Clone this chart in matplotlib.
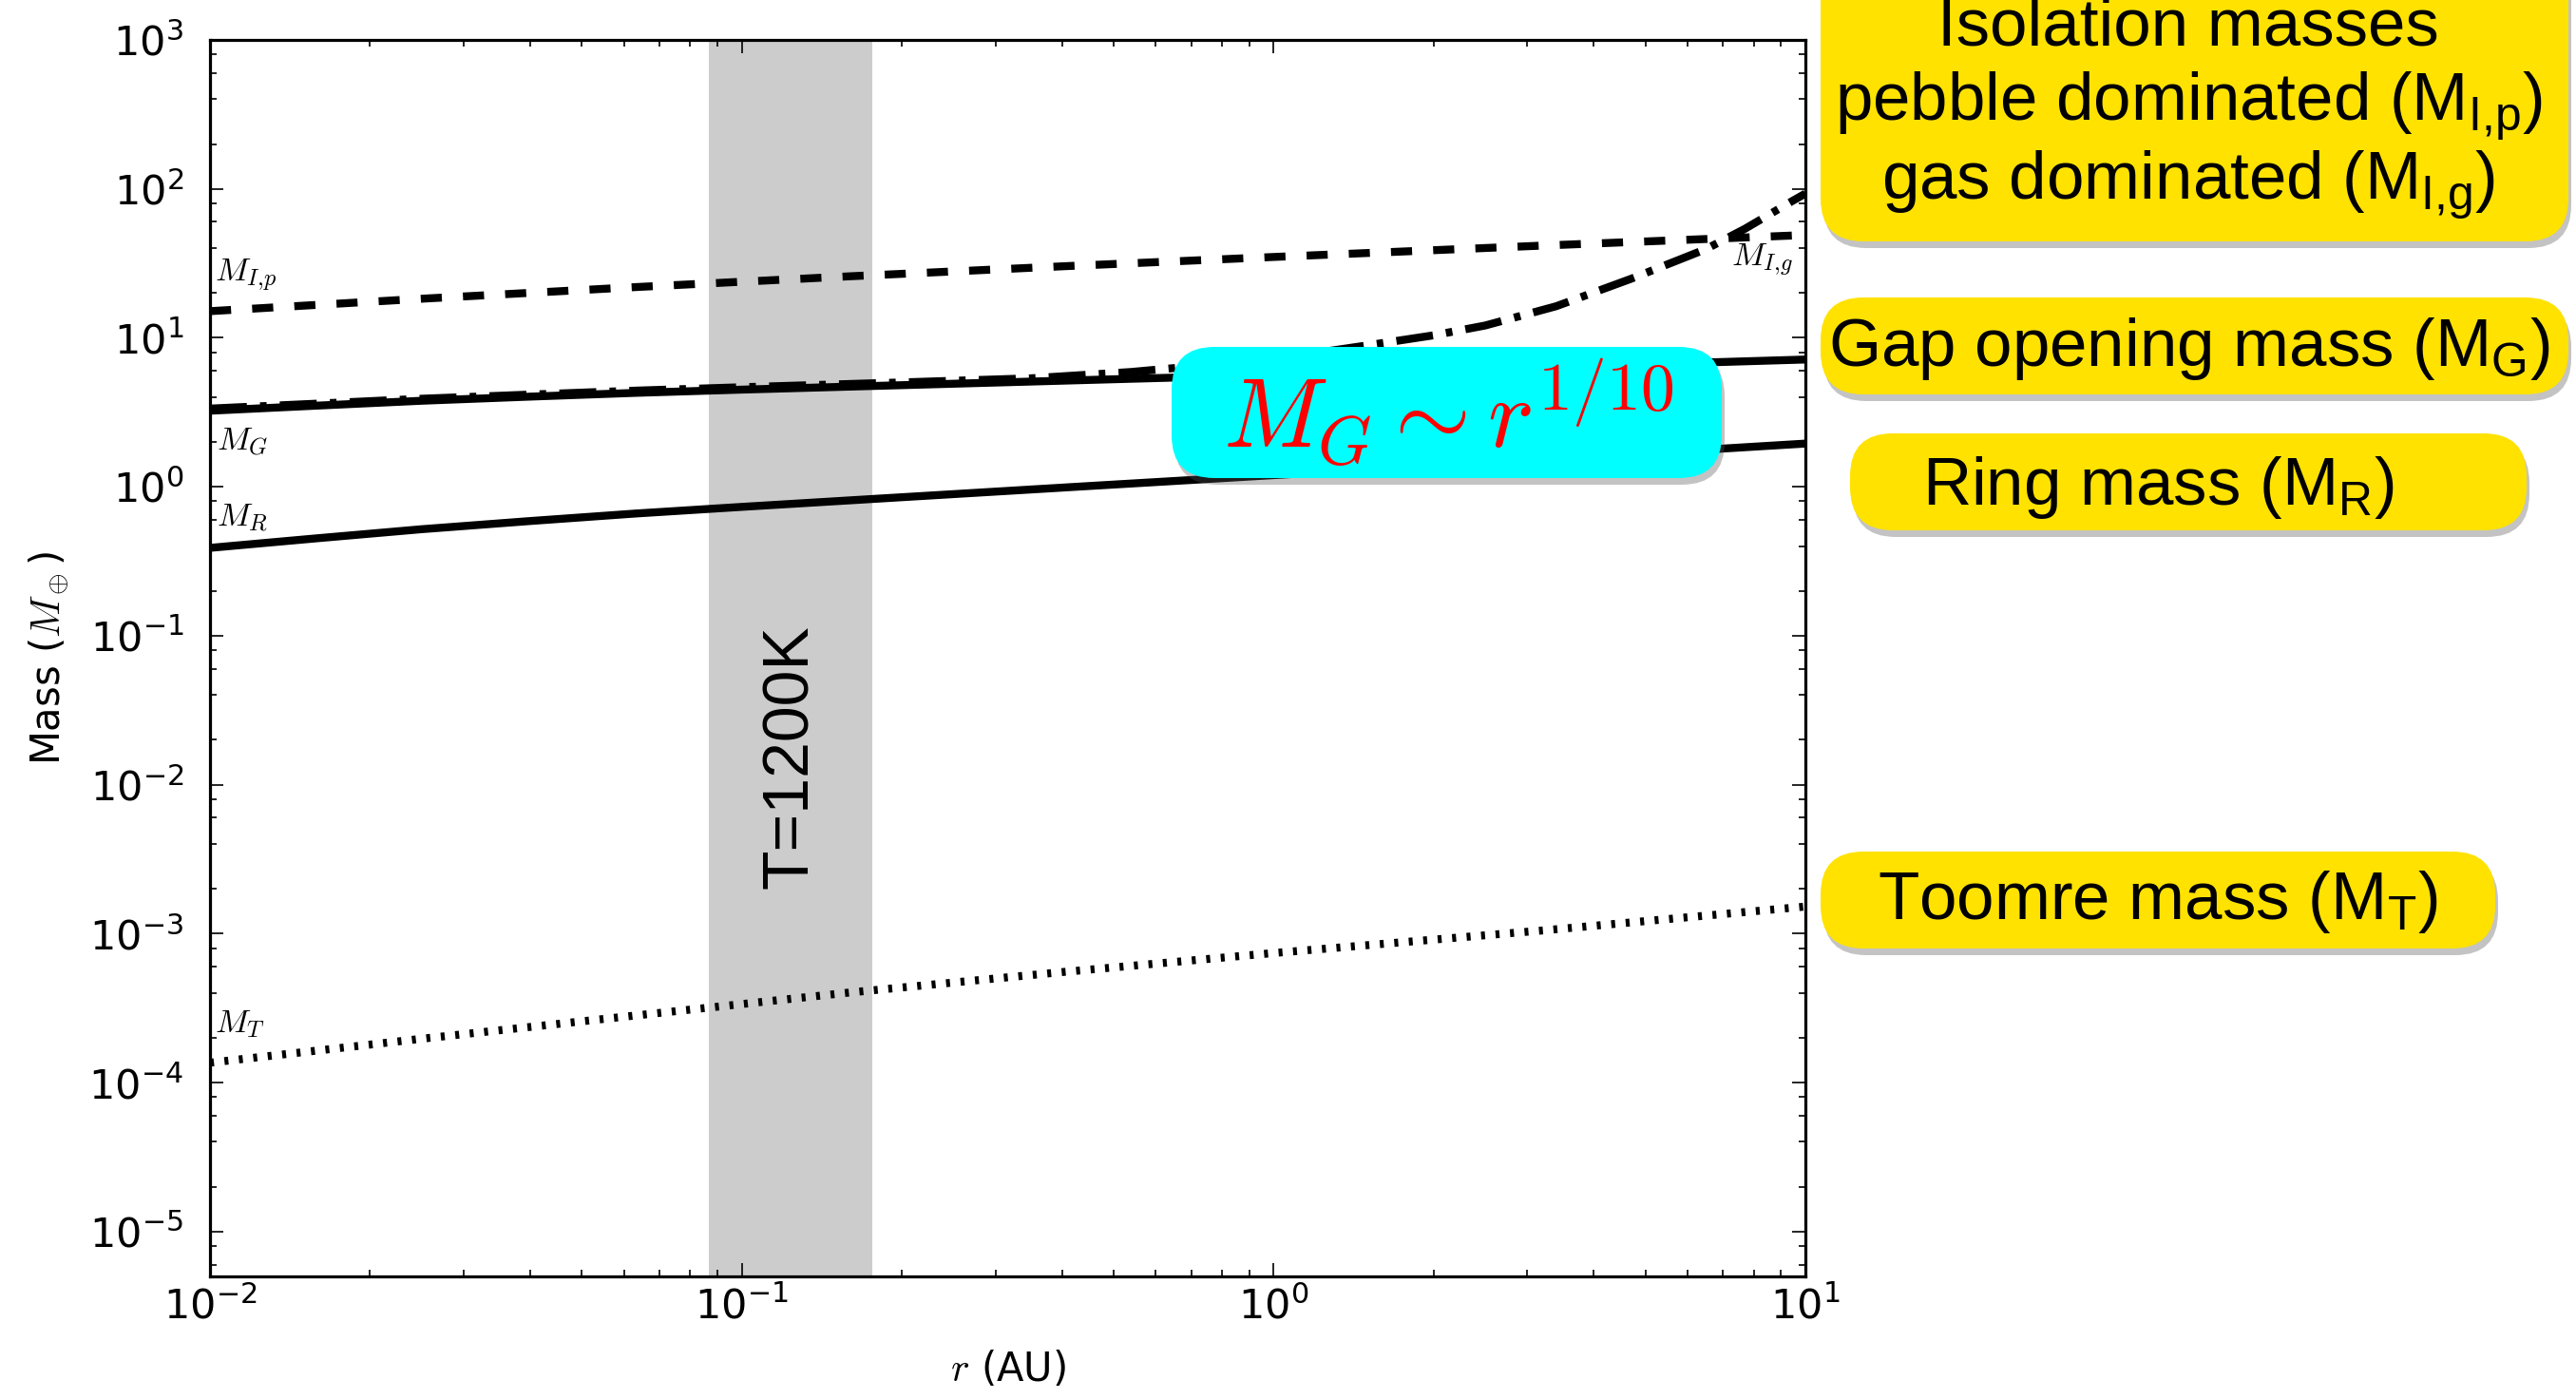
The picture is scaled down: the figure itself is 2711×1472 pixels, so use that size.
import matplotlib.pyplot as plt
from matplotlib.patches import FancyBboxPatch
from matplotlib.ticker import LogLocator, NullFormatter
from matplotlib.transforms import IdentityTransform

plt.rcParams['mathtext.fontset'] = 'cm'
plt.rcParams['lines.scale_dashes'] = False
plt.rcParams['axes.unicode_minus'] = False

# pebble isolation mass M_I,p (Earth masses) vs r (AU)
r_iso_peb = [0.01, 0.025, 0.063, 0.16, 0.4, 1.0, 3.2, 10.0]
m_iso_peb = [15.1, 18.3, 21.9, 25.9, 30.2, 34.9, 41.6, 49.0]

# gap opening mass M_G
r_gap = [0.01, 0.016, 0.025, 0.04, 0.063, 0.1, 0.2, 0.54, 2.0, 10.0]
m_gap = [3.24, 3.51, 3.78, 4.03, 4.27, 4.49, 4.81, 5.31, 6.03, 7.15]

# gas isolation mass M_I,g
r_iso_gas = [0.01, 0.016, 0.025, 0.04, 0.063, 0.1, 0.2, 0.35, 0.54, 1.0, 1.5,
             2.0, 2.5, 3.4, 4.7, 6.5, 7.7, 9.4, 10.0]
m_iso_gas = [3.35, 3.62, 3.9, 4.16, 4.42, 4.66, 5.02, 5.35, 5.9, 7.2, 8.9,
             10.4, 12.1, 16.3, 24.9, 39.4, 54.0, 82.0, 93.0]

# ring mass M_R
r_ring = [0.01, 0.016, 0.025, 0.04, 0.063, 0.1, 0.2, 0.45, 1.0, 3.2, 10.0]
m_ring = [0.389, 0.452, 0.519, 0.589, 0.661, 0.733, 0.851, 1.012, 1.197, 1.524, 1.95]

# Toomre mass M_T
r_toomre = [0.01, 0.025, 0.063, 0.16, 0.4, 1.0, 3.2, 10.0]
m_toomre = [1.36e-4, 1.97e-4, 2.82e-4, 4.03e-4, 5.52e-4, 7.41e-4, 1.05e-3, 1.52e-3]

# silicate sublimation zone (T = 1200 K)
hot_zone = (0.0867, 0.176)

x_decades = [1e-2, 1e-1, 1e0, 1e1]
y_decades = [1e-5, 1e-4, 1e-3, 1e-2, 1e-1, 1e0, 1e1, 1e2, 1e3]

W, H = 2711, 1472
fig = plt.figure(figsize=(W / 100, H / 100), dpi=100)
ax = fig.add_axes([221 / W, 1 - 1343 / H, 1679 / W, 1301 / H])

ax.axvspan(hot_zone[0], hot_zone[1], color='#cccccc', lw=0, zorder=0)
ax.text((hot_zone[0] * hot_zone[1]) ** 0.5, 0.0155, 'T=1200K', rotation=90,
        ha='center', va='center', fontsize=49, family='Liberation Sans')

lw = 6
ax.plot(r_iso_peb, m_iso_peb, color='k', lw=lw, ls=(0, (16, 16)), dash_capstyle='butt')
ax.plot(r_gap, m_gap, color='k', lw=lw)
ax.plot(r_iso_gas, m_iso_gas, color='k', lw=lw, ls=(0, (28, 10, 5, 10)), dash_capstyle='butt')
ax.plot(r_ring, m_ring, color='k', lw=lw)
ax.plot(r_toomre, m_toomre, color='k', lw=lw, ls=(0, (3, 8)), dash_capstyle='butt')

lab = dict(fontsize=25, ha='left', va='center')
ax.text(0.0102, 26, r'$M_{I{,}p}$', **lab)
ax.text(0.0103, 2.0, r'$M_G$', **lab)
ax.text(0.0103, 0.62, r'$M_R$', **lab)
ax.text(0.0102, 2.5e-4, r'$M_T$', **lab)
ax.text(7.25, 33, r'$M_{I{,}g}$', **lab)

ax.set_xscale('log')
ax.set_yscale('log')
ax.set_xticks(x_decades)
ax.set_yticks(y_decades)
ax.set_xlim(1e-2, 1e1)
ax.set_ylim(5e-6, 1e3)
ax.yaxis.set_minor_locator(LogLocator(base=10, subs=(2, 4, 6, 8)))
ax.xaxis.set_minor_locator(LogLocator(base=10, subs=range(2, 10)))
ax.xaxis.set_minor_formatter(NullFormatter())
ax.yaxis.set_minor_formatter(NullFormatter())
ax.tick_params(which='both', direction='in', top=True, right=True, width=1.2)
ax.tick_params(which='major', length=10, labelsize=31)
ax.tick_params(which='minor', length=5)
ax.tick_params(axis='y', pad=20)
ax.tick_params(axis='x', pad=8)
for s in ax.spines.values():
    s.set_linewidth(2.3)

ax.set_xlabel('$r$ (AU)', fontsize=30, labelpad=17)
ax.set_ylabel(r'Mass ($M_\oplus$)', fontsize=30, labelpad=14)

# callout boxes, placed in pixels measured from the top-left corner
px = IdentityTransform()


def callout(x0, y0, x1, y1, face, radius):
    for dx, dy, fc, alpha in [(3, 7, '#555555', 0.35), (0, 0, face, 1.0)]:
        fig.add_artist(FancyBboxPatch(
            (x0 + dx, H - y1 - dy), x1 - x0, y1 - y0,
            boxstyle=f'round,pad=0,rounding_size={radius}',
            fc=fc, ec='none', alpha=alpha, transform=px, zorder=5))


def label(x, y, s, **kw):
    fig.text(x, H - y, s, transform=px, zorder=6, ha='center', va='center', **kw)


yellow = '#ffe200'
callout(1233, 365, 1812, 503, '#00ffff', 45)
label(1524, 436, r'$M_G \sim r^{1/10}$', color='red', fontsize=74)

box_font = dict(fontsize=51, family='Liberation Sans')
callout(1916, -60, 2703, 254, yellow, 45)
label(2303, 29, 'Isolation masses', **box_font)
label(2303, 111, r'pebble dominated ($\mathregular{M_{I{,}p}}$)', **box_font)
label(2303, 194, r'gas dominated ($\mathregular{M_{I{,}g}}$)', **box_font)

callout(1916, 313, 2703, 415, yellow, 45)
label(2304, 367, r'Gap opening mass ($\mathregular{M_G}$)', **box_font)

callout(1947, 456, 2659, 558, yellow, 45)
label(2271, 513, r'Ring mass ($\mathregular{M_R}$)', **box_font)

callout(1916, 896, 2626, 998, yellow, 45)
label(2271, 949, r'Toomre mass ($\mathregular{M_T}$)', **box_font)

fig.savefig('out.png', dpi=100)
